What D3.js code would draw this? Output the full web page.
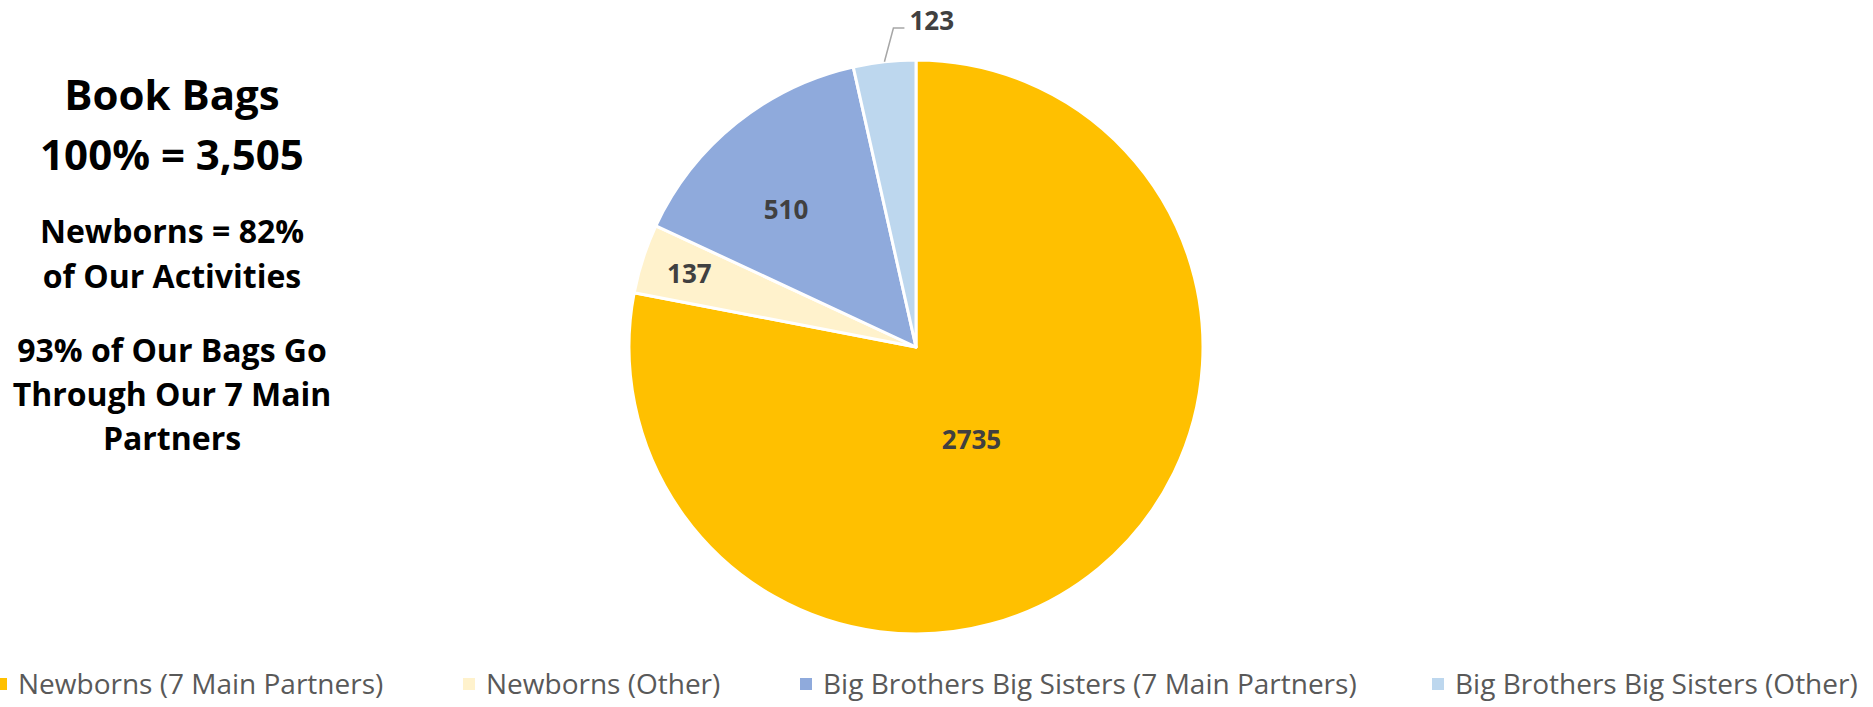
<!DOCTYPE html>
<html>
<head>
<meta charset="utf-8">
<script src="https://cdn.jsdelivr.net/npm/d3@7"></script>
<style>
  html, body { margin: 0; padding: 0; background: #fff; }
  svg { display: block; }
</style>
</head>
<body>
<svg id="chart" width="1873" height="707"></svg>
<script>
// ---- data ----
const categories = [
  "Newborns (7 Main Partners)",
  "Newborns (Other)",
  "Big Brothers Big Sisters (7 Main Partners)",
  "Big Brothers Big Sisters (Other)"
];
const values = [2735, 137, 510, 123];
const colors = ["#FFC000", "#FFF2CC", "#8FAADC", "#BDD7EE"];
const titleLines = ["Book Bags", "100% = 3,505"];
const noteLines1 = ["Newborns = 82%", "of Our Activities"];
const noteLines2 = ["93% of Our Bags Go", "Through Our 7 Main", "Partners"];

// ---- layout ----
const svg = d3.select("#chart");
const font = "'Open Sans', 'Liberation Sans', sans-serif";
const cx = 916, cy = 347, R = 287;

const pie = d3.pie().sort(null).value(d => d.value);
const data = categories.map((c, i) => ({ name: c, value: values[i], color: colors[i] }));
const arcs = pie(data);
const arc = d3.arc().innerRadius(0).outerRadius(R);

const g = svg.append("g").attr("transform", `translate(${cx},${cy})`);
g.selectAll("path.slice")
  .data(arcs)
  .join("path")
  .attr("class", "slice")
  .attr("d", arc)
  .attr("fill", d => d.data.color)
  .attr("stroke", "#fff")
  .attr("stroke-width", 3)
  .attr("stroke-linejoin", "round");

// data labels (placement: radius fraction and angle shift in degrees)
const labelRadius = [0.375, 0.83, 0.66, null];
const labelShift = [8.5, 0, -4.5, 0];
arcs.forEach((a, i) => {
  const mid = (a.startAngle + a.endAngle) / 2 + labelShift[i] * Math.PI / 180;
  if (labelRadius[i] !== null) {
    const r = labelRadius[i] * R;
    g.append("text")
      .attr("x", r * Math.sin(mid))
      .attr("y", -r * Math.cos(mid))
      .attr("dy", "0.36em")
      .attr("text-anchor", "middle")
      .attr("font-family", font)
      .attr("font-weight", 700)
      .attr("font-size", 26)
      .attr("fill", "#404040")
      .text(a.data.value);
  } else {
    // outside label with leader line
    const p0 = [R * Math.sin(mid), -R * Math.cos(mid)];
    const ly = -319;
    const p1 = [p0[0] + 9, ly];
    const p2 = [p1[0] + 11, ly];
    g.append("polyline")
      .attr("points", [p0, p1, p2].map(p => p.join(",")).join(" "))
      .attr("fill", "none")
      .attr("stroke", "#A6A6A6")
      .attr("stroke-width", 1.5);
    g.append("text")
      .attr("x", p2[0] + 5)
      .attr("y", ly - 7)
      .attr("dy", "0.36em")
      .attr("text-anchor", "start")
      .attr("font-family", font)
      .attr("font-weight", 700)
      .attr("font-size", 26)
      .attr("fill", "#404040")
      .text(a.data.value);
  }
});

// left annotation text
const tx = 172;
function block(lines, y0, step, size) {
  lines.forEach((t, i) => {
    svg.append("text")
      .attr("x", tx)
      .attr("y", y0 + i * step)
      .attr("text-anchor", "middle")
      .attr("font-family", font)
      .attr("font-weight", 700)
      .attr("font-size", size)
      .attr("fill", "#000")
      .text(t);
  });
}
block(titleLines, 110, 60, 42);
block(noteLines1, 243, 45, 32);
block(noteLines2, 362, 44, 32);

// legend
const legendTextX = [18, 486, 823, 1455];
const legendY = 694;
const lg = svg.append("g");
data.forEach((d, i) => {
  lg.append("rect")
    .attr("x", legendTextX[i] - 23)
    .attr("y", legendY - 16)
    .attr("width", 12)
    .attr("height", 12)
    .attr("fill", d.color);
  lg.append("text")
    .attr("x", legendTextX[i])
    .attr("y", legendY)
    .attr("font-family", font)
    .attr("font-size", 28)
    .attr("fill", "#595959")
    .text(d.name);
});
</script>
</body>
</html>
